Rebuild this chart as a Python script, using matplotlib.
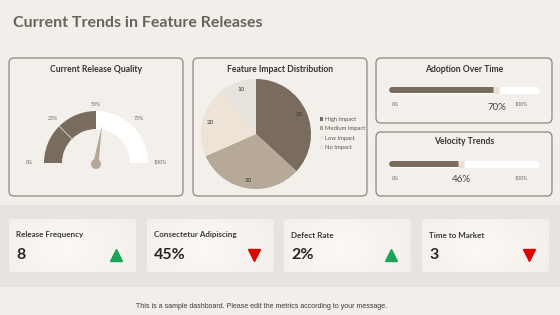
import numpy as np
import matplotlib.pyplot as plt
from matplotlib.patches import FancyBboxPatch, Polygon, Circle

W, H = 560, 315

title = "Current Trends in Feature Releases"

gauge_title = "Current Release Quality"
gauge_ticks = ["0%", "25%", "50%", "75%", "100%"]
quality_segments = [25, 25, 25, 25]
quality_filled = 50
quality_needle = 55

pie_title = "Feature Impact Distribution"
impact_labels = ["High Impact", "Medium Impact", "Low Impact", "No Impact"]
impact_values = [35, 30, 20, 10]

progress_titles = ["Adoption Over Time", "Velocity Trends"]
progress_values = [70, 46]

kpi_names = ["Release Frequency", "Consectetur Adipiscing", "Defect Rate", "Time to Market"]
kpi_values = ["8", "45%", "2%", "3"]
kpi_up = [True, False, True, False]

footer = "This is a sample dashboard. Please edit the metrics according to your message."

BG = "#f2eeea"
BAND = "#e7e4e0"
DARK = "#7a6b5f"
BORDER = "#857a70"
HEAD = "#3a3430"
pie_colors = ["#7a6b5f", "#b6a998", "#ede3d6", "#e6e2dc"]

plt.rcParams["font.family"] = ["Lato", "DejaVu Sans"]

fig = plt.figure(figsize=(W / 100, H / 100), dpi=100)
fig.patch.set_facecolor(BG)

ax = fig.add_axes([0, 0, 1, 1])
ax.set_xlim(0, W)
ax.set_ylim(H, 0)
ax.axis("off")


def sub_axes(x0, y0, x1, y1):
    a = fig.add_axes([x0 / W, 1 - y1 / H, (x1 - x0) / W, (y1 - y0) / H])
    a.patch.set_alpha(0)
    return a


def panel(x0, y0, x1, y1, title_text, ty):
    ax.add_patch(FancyBboxPatch((x0, y0), x1 - x0, y1 - y0,
                                boxstyle="round,pad=0,rounding_size=5",
                                fc="#f3efeb", ec=BORDER, lw=0.8))
    ax.text((x0 + x1) / 2, ty, title_text, ha="center", va="center",
            fontsize=6.2, fontweight="bold", color=HEAD)


ax.text(13, 23, title, ha="left", va="center", fontsize=11.5,
        fontweight="bold", color="#6b625c")

# bottom band
ax.add_patch(plt.Rectangle((0, 205), W, 82, fc=BAND, ec="none"))

# ---- gauge panel
panel(9, 58, 183, 196, gauge_title, 69)
gx, gy = 96, 315 - 163
ga = sub_axes(9, 58, 183, 196)
cum = np.cumsum(quality_segments) - np.array(quality_segments)
seg_colors = [DARK if c < quality_filled else "white" for c in cum]
ga.pie(quality_segments + [sum(quality_segments)], colors=seg_colors + ["none"],
       startangle=180, counterclock=False, radius=52, center=(gx, gy),
       wedgeprops=dict(width=18, linewidth=0), frame=True)
ang = np.radians(180 - 1.8 * 25)
ga.plot([gx + 34 * np.cos(ang), gx + 52 * np.cos(ang)],
        [gy + 34 * np.sin(ang), gy + 52 * np.sin(ang)], color="#d8cfc5", lw=0.6)
ang = np.radians(180 - 1.8 * quality_needle)
perp = ang + np.pi / 2
tip = (gx + 38 * np.cos(ang), gy + 38 * np.sin(ang))
base1 = (gx + 2.6 * np.cos(perp), gy + 2.6 * np.sin(perp))
base2 = (gx - 2.6 * np.cos(perp), gy - 2.6 * np.sin(perp))
ga.add_patch(Polygon([tip, base1, base2], closed=True, fc="#b4a797", ec="none"))
ga.add_patch(Circle((gx, gy - 1), 5, fc="#b4a797", ec="none"))
label_r = [67, 61, 58, 61, 64]
for i, t in enumerate(gauge_ticks):
    a = np.radians(180 - 45 * i)
    ga.text(gx + label_r[i] * np.cos(a), gy + label_r[i] * np.sin(a) + 1, t,
            ha="center", va="center", fontsize=3.8, color="#6a6a6a")
ga.set_xlim(9, 183)
ga.set_ylim(315 - 196, 315 - 58)
ga.set_aspect("equal")
ga.axis("off")

# ---- pie panel
panel(193, 58, 367, 196, pie_title, 69)
pa = sub_axes(193, 58, 367, 196)
total = sum(impact_values)
wedges, _, autotexts = pa.pie(impact_values, colors=pie_colors, startangle=90,
                              counterclock=False, radius=55, center=(256, 315 - 134),
                              autopct=lambda p: f"{p * total / 100:.0f}",
                              pctdistance=0.86, frame=True,
                              wedgeprops=dict(linewidth=0),
                              textprops=dict(fontsize=4.5, color="#3a3a3a"))
pa.set_xlim(193, 367)
pa.set_ylim(315 - 196, 315 - 58)
pa.set_aspect("equal")
pa.axis("off")
leg = pa.legend(wedges, impact_labels, loc="upper left",
                bbox_to_anchor=(317 / W, 1 - 114 / H), bbox_transform=fig.transFigure,
                frameon=False, fontsize=4.2, handlelength=0.6, handleheight=0.6,
                handletextpad=0.3, labelspacing=0.75, borderpad=0)
for t in leg.get_texts():
    t.set_color("#555555")

# ---- progress panels
prog_boxes = [(58, 123, 69, 90, 104, 107), (132, 196, 142, 164, 178, 180)]
bx0, bx1 = 389, 539
for (y0, y1, ty, by, ly, vy), name, v in zip(prog_boxes, progress_titles, progress_values):
    panel(376, y0, 552, y1, name, ty)
    ba = sub_axes(bx0, by - 6, bx1, by + 6)
    ba.set_xlim(-2, 102)
    ba.set_ylim(-1, 1)
    ba.plot([0, 100], [0, 0], color="white", lw=5.2, solid_capstyle="round")
    ba.plot([0, v], [0, 0], color=DARK, lw=4.3, solid_capstyle="round")
    ba.plot([v, v + 4], [0, 0], color="#e9dfd2", lw=5.2, solid_capstyle="butt")
    ba.axis("off")
    ax.text(396, ly, "0%", ha="center", va="center", fontsize=3.8, color="#6a6a6a")
    ax.text(521, ly, "100%", ha="center", va="center", fontsize=3.8, color="#6a6a6a")
    ax.text(bx0 + (bx1 - bx0) * v / 100 + 3, vy, f"{v}%", ha="center", va="center",
            fontsize=7, color="#4a4440")

# ---- KPI cards
card_x = [9, 147, 284, 422]
cw = 127
grad = np.linspace(0, 1, 64)
gx_, gy_ = np.meshgrid(grad, grad)
shade = np.clip(np.hypot(gx_ - 0.45, (gy_ - 0.55) * 0.6), 0, 1)
c_in = np.array([0.985, 0.978, 0.968])
c_out = np.array([0.935, 0.91, 0.88])
img = c_in + (c_out - c_in) * shade[..., None]
for x0, name, val, up in zip(card_x, kpi_names, kpi_values, kpi_up):
    box = FancyBboxPatch((x0, 219), cw, 53, boxstyle="round,pad=0,rounding_size=3",
                         fc="#f7f3ee", ec="none")
    ax.add_patch(box)
    im = ax.imshow(img, extent=(x0, x0 + cw, 272, 219), aspect="auto", zorder=2)
    im.set_clip_path(box)
    ax.text(x0 + 7, 235, name, ha="left", va="center", fontsize=5.8,
            fontweight="bold", color="#3a3a3a", zorder=3)
    ax.text(x0 + 7, 255, val, ha="left", va="center", fontsize=11.5,
            fontweight="bold", color="#262626", zorder=3)
    ax.plot(x0 + cw - 20, 255, marker="^" if up else "v", markersize=9,
            color="#1ca35a" if up else "#e00000", zorder=3, linestyle="none")

ax.set_xlim(0, W)
ax.set_ylim(H, 0)
ax.text(262, 307, footer, ha="center", va="center", fontsize=5,
        family=["Liberation Sans", "DejaVu Sans"], color="#3a3a3a")

fig.savefig("out.png", dpi=100, facecolor=BG)
